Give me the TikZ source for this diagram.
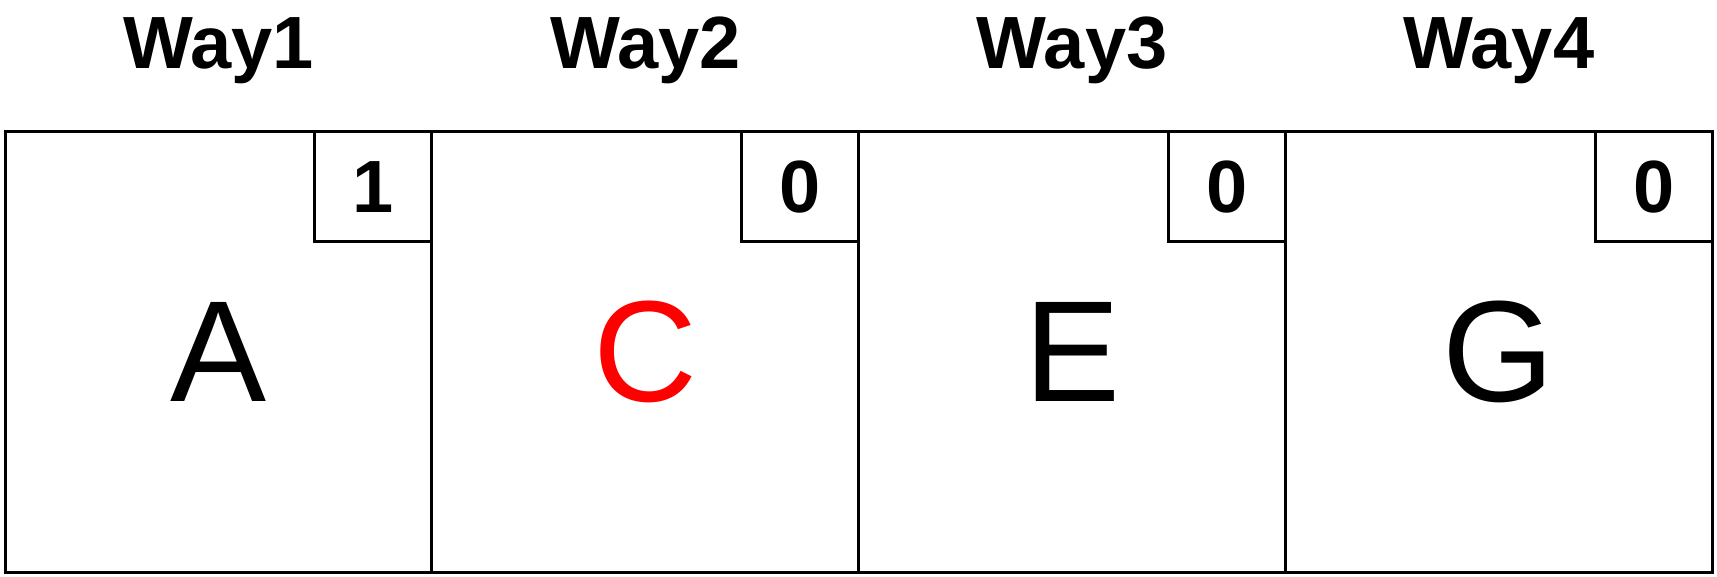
\documentclass[tikz,border=0pt]{standalone}
\usepackage{fontspec}
\setmainfont{Liberation Sans}
\usepackage{xcolor}
\definecolor{hitred}{HTML}{FF0000}
\usetikzlibrary{positioning}

\begin{document}
\begin{tikzpicture}
\tikzset{
 way/.style={draw,line width=1.5pt,outer sep=0pt,minimum width=213.4pt,minimum height=220pt,inner sep=0pt,font=\fontsize{72}{80}\selectfont},
 flag/.style={draw,line width=1.5pt,outer sep=0pt,minimum width=58.5pt,minimum height=55pt,inner sep=0pt,anchor=north east,font=\fontsize{37}{40}\selectfont\bfseries},
 title/.style={inner sep=0pt,text depth=0pt,font=\fontsize{37}{40}\selectfont\bfseries}
}
\useasboundingbox (0,0) rectangle (858.5pt,-288.5pt);
\node[way] (way1) at (109.25pt,-176pt) {A};
\node[way,right=0pt of way1] (way2) {\textcolor{hitred}{C}};
\node[way,right=0pt of way2] (way3) {E};
\node[way,right=0pt of way3] (way4) {G};
\node[flag] (bit1) at (way1.north east) {1};
\node[flag] (bit2) at (way2.north east) {0};
\node[flag] (bit3) at (way3.north east) {0};
\node[flag] (bit4) at (way4.north east) {0};
\node[title,above=31.5pt of way1] (title1) {Way1};
\node[title,above=31.5pt of way2] (title2) {Way2};
\node[title,above=31.5pt of way3] (title3) {Way3};
\node[title,above=31.5pt of way4] (title4) {Way4};
\end{tikzpicture}
\end{document}
